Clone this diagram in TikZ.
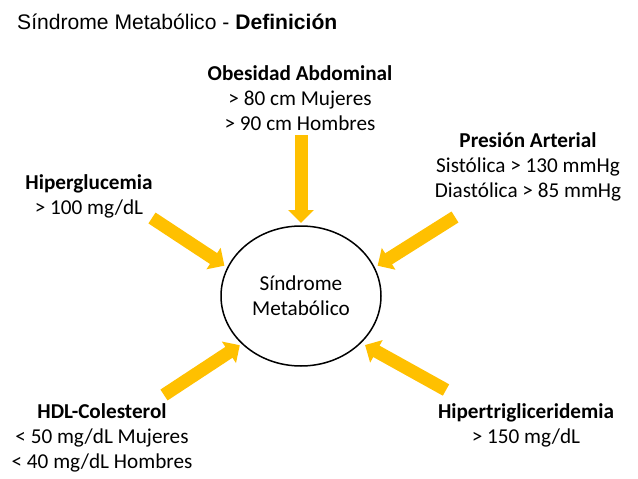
\documentclass[tikz,border=0pt]{standalone}
\usepackage{fontspec}
\setmainfont{Carlito}
\newfontfamily\titlefont{Liberation Sans}
\usetikzlibrary{arrows.meta,shapes.geometric}
\definecolor{gold}{HTML}{FFC000}
\tikzset{
  lbl/.style={font=\fontsize{21.2}{25}\selectfont, align=center, inner sep=0pt, anchor=center},
  arr/.style={draw=gold, line width=13pt, -{Triangle[width=25pt,length=13pt]}},
  core/.style={draw, line width=1.5pt, ellipse, minimum width=160pt, minimum height=140pt, inner sep=0pt, outer sep=0pt, font=\fontsize{21.2}{25}\selectfont, align=center}
}
\begin{document}
\begin{tikzpicture}[x=1pt,y=-1pt]
\fill[white] (0,0) rectangle (638,479);
\useasboundingbox (0,0) rectangle (638,479);
\node[anchor=base west, inner sep=0pt, font=\titlefont\fontsize{21.1}{25}\selectfont] (title) at (17,29) {Síndrome Metabólico - \textbf{Definición}};
\node[core] (sm) at (301,296) {Síndrome\\Metabólico};
\node[lbl] (ob) at (300,98) {\textbf{Obesidad Abdominal}\\> 80 cm Mujeres\\> 90 cm Hombres};
\node[lbl] (hg) at (89,196.5) {\textbf{Hiperglucemia}\\> 100 mg/dL};
\node[lbl] (pa) at (528,166.5) {\textbf{Presión Arterial}\\Sistólica > 130 mmHg\\Diastólica > 85 mmHg};
\node[lbl] (hdl) at (102,437.5) {\textbf{HDL-Colesterol}\\< 50 mg/dL Mujeres\\< 40 mg/dL Hombres};
\node[lbl] (tg) at (526,425.5) {\textbf{Hipertrigliceridemia}\\> 150 mg/dL};
\coordinate (t1) at (301,135);
\coordinate (t2) at (152,218);
\coordinate (t3) at (455,217);
\coordinate (t4) at (164,395);
\coordinate (t5) at (446,390);
\draw[arr, shorten >=3pt] (t1) -- (sm.north);
\draw[arr, shorten >=4pt] (t2) -- (sm.159);
\draw[arr, shorten >=4pt] (t3) -- (sm.21);
\draw[arr, shorten >=3pt] (t4) -- (sm.219);
\draw[arr, shorten >=5pt] (t5) -- (sm.322);
\end{tikzpicture}
\end{document}
